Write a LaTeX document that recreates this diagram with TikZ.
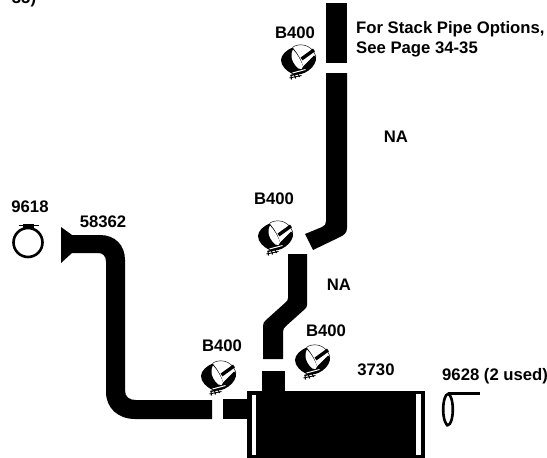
\documentclass[tikz,border=0pt]{standalone}
\usepackage{fontspec}
\setmainfont{Liberation Sans}
\tikzset{
  lbl/.style={anchor=base,inner sep=0pt,font=\fontsize{16.7}{19}\selectfont\bfseries},
  lbll/.style={lbl,anchor=base west},
  pipefill/.style={fill=black,draw=none},
  clampp/.pic={
    % black body: crescent running round into the lower band
    \fill[black] (-6,-12.5) .. controls (-12,-10) and (-17.5,-5) .. (-17.5,0)
      .. controls (-17.5,6) and (-12,11) .. (-6,14)
      .. controls (0,15.5) and (6,13.5) .. (10,10.5)
      .. controls (15,7) and (18,2) .. (17.5,-3)
      -- (15.5,-4.5) -- (4.5,6.5)
      .. controls (3.5,1) and (-1,-7) .. (-6,-12.5) -- cycle;
    % the opening
    \fill[white] (-5.5,-10.5) .. controls (-2,-7) and (3,1) .. (4.5,6.5)
      .. controls (4.5,9) and (2,10) .. (0,8.5)
      .. controls (-4,5.5) and (-7,0) .. (-7,-4)
      .. controls (-7,-7) and (-6.5,-9) .. (-5.5,-10.5) -- cycle;
    % top outline of the band
    \draw[black,line width=.45pt] (-6,-12.5) .. controls (-2,-16.5) and (13,-18) .. (17.5,-3);
    % strap on the band
    \draw[black,line width=3.4pt] (3,-1) -- (15.5,-10);
    % slit, bolt and feet
    \draw[white,line width=1pt] (-6,13) -- (7,9.5);
    \draw[black,line width=1.4pt] (-8,15.5) -- (6,12);
    \draw[black,line width=1.1pt] (-7.5,15) -- (-7,19.5) (-4,14.5) -- (-3,18.5) (-.5,13.5) -- (1,17);
    \draw[black,line width=.9pt] (-9,18) -- (3,15.5);
  }
}
\begin{document}
\begin{tikzpicture}[x=1pt,y=-1pt]
\useasboundingbox (0,0) rectangle (547,458);
\fill[white] (0,0) rectangle (547,458);

% stack pipe
\fill[pipefill] (326,3) rectangle (347,63);
\fill[pipefill] (326,73) -- (347,73) -- (347,228)
  .. controls (347,233) and (344,235) .. (340,237)
  -- (313,250) -- (305,234) -- (322,227)
  .. controls (325,226) and (326,224) .. (326,221) -- cycle;

% intermediate pipe
\fill[pipefill] (288,254) -- (307,254) -- (307,305)
  .. controls (307,307) and (306,308) .. (305,309)
  -- (286,326) .. controls (284,328) and (283,329) .. (283,332)
  -- (283,359) -- (263,359) -- (263,326)
  .. controls (263,323) and (264,322) .. (266,320)
  -- (286,302) .. controls (287,301) and (288,300) .. (288,298) -- cycle;

% tail pipe with flare
\fill[pipefill] (61,227) -- (72,235) -- (100,235)
  .. controls (115,235) and (125,245) .. (125,260)
  -- (125,390) .. controls (125,397) and (129,400) .. (136,400)
  -- (212,400) -- (212,419) -- (135,419)
  .. controls (118,419) and (106,408) .. (106,392)
  -- (106,262) .. controls (106,256) and (103,253) .. (98,253)
  -- (72,253) -- (61,263) -- cycle;

% muffler and stubs
\fill[pipefill] (223,399) rectangle (248,419);
\fill[pipefill] (262,371) rectangle (285,392);
\fill[pipefill] (247,391) rectangle (425,458);
\fill[white] (252,395) rectangle (256,455);
\fill[white] (416,394) rectangle (421,455);

% clamps
\pic at (298.5,60) {clampp};
\pic at (275.5,236) {clampp};
\pic at (218.5,376) {clampp};
\pic at (312.5,360) {clampp};

% hanger 9618
\draw[black,line width=2.6pt] (28,242.5) circle[radius=14.5];
\draw[black,line width=1.2pt] (19,225.5) -- (39,225.5);
\fill[black] (23,224) rectangle (34,228);

% hanger 9628
\draw[black,line width=2.6pt] (448,409.5) ellipse[x radius=4.8,y radius=15.5];
\fill[black] (448,391.5) rectangle (480,395);
\fill[black] (447,425.5) circle[radius=1.3];

% labels
\node[lbl] (b1) at (295,38) {B400};
\node[lbl] (b2) at (274,204) {B400};
\node[lbl] (b3) at (222,351) {B400};
\node[lbl] (b4) at (326,336) {B400};
\node[lbl] (na1) at (396,142) {NA};
\node[lbl] (na2) at (339,290) {NA};
\node[lbl] (n3730) at (376,375) {3730};
\node[lbll] (n9628) at (442,380) {9628 (2 used)};
\node[lbl] (n9618) at (30,212) {9618};
\node[lbl] (n58362) at (103,227) {58362};
\node[lbll] (stack1) at (356,33) {For Stack Pipe Options,};
\node[lbll] (stack2) at (356,53) {See Page 34-35};
\node[lbl] (cut) at (24,3) {35)};
\end{tikzpicture}
\end{document}
